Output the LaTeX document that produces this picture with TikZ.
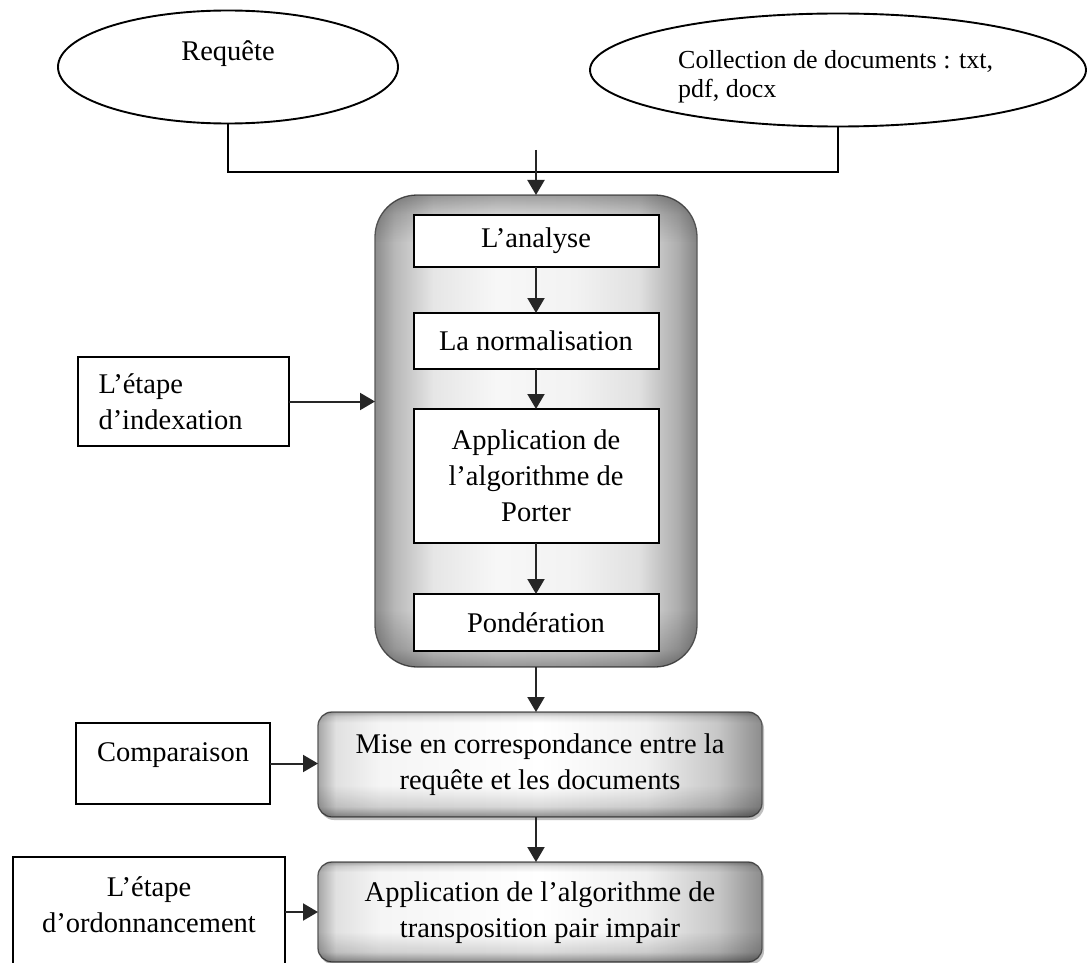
\documentclass[tikz,border=0pt]{standalone}
\usepackage{fontspec}
\setmainfont{Liberation Serif}
\usetikzlibrary{arrows.meta,shapes.geometric,shadows}

% soft grey glow: dark rims, light centre
\pgfdeclarehorizontalshading{sideglow}{100bp}{color(0bp)=(black!45); color(25bp)=(black!45); color(28bp)=(black!28); color(34bp)=(black!10); color(44bp)=(black!3); color(56bp)=(black!5); color(66bp)=(black!12); color(72bp)=(black!32); color(75bp)=(black!48); color(100bp)=(black!48)}
\pgfdeclareverticalshading{endglow}{100bp}{color(0bp)=(black!40); color(25bp)=(black!40); color(27bp)=(black!18); color(31bp)=(white); color(70bp)=(white); color(73bp)=(black!15); color(75bp)=(black!35); color(100bp)=(black!35)}
\pgfdeclarehorizontalshading{wideglow}{100bp}{color(0bp)=(black!35); color(25bp)=(black!35); color(27bp)=(black!12); color(32bp)=(black!4); color(50bp)=(white); color(62bp)=(black!6); color(70bp)=(black!22); color(75bp)=(black!45); color(100bp)=(black!45)}
\pgfdeclareverticalshading{wideglowv}{100bp}{color(0bp)=(black!45); color(25bp)=(black!45); color(30bp)=(black!15); color(40bp)=(white); color(70bp)=(white); color(73bp)=(black!10); color(75bp)=(black!30); color(100bp)=(black!30)}

\tikzset{
  txt/.style={font=\fontsize{28.5}{36}\selectfont, align=center, inner sep=0pt},
  oval/.style={draw, ellipse, line width=1.9pt, inner sep=0pt, outer sep=0pt},
  plainbox/.style={draw, line width=2pt, fill=white, inner sep=0pt, outer sep=0pt, txt},
  stagebox/.style={draw=black!65, line width=1.3pt, inner sep=0pt, outer sep=0pt, txt},
  widebox/.style={stagebox, shade, shading=wideglow, rounded corners=14pt,
    minimum width=444pt, drop shadow={shadow xshift=2pt, shadow yshift=-3pt, fill=black!45, opacity=0.55}},
  link/.style={draw, line width=2pt},
  arr/.style={draw=black!85, line width=2pt, -{Triangle[length=15pt,width=17pt]}},
}

\begin{document}
\begin{tikzpicture}[x=1pt, y=-1pt]
\fill[white] (0,0) rectangle (1090,963);
\useasboundingbox (0,0) rectangle (1090,963);

% inputs
\node[oval, minimum width=340pt, minimum height=113pt] (req) at (228,67) {};
\node[txt] (reqlabel) at (228,54) {Requête};
\node[oval, minimum width=496pt, minimum height=113pt] (coll) at (838,70) {};
\node[txt, font=\fontsize{26}{29}\selectfont, align=left, anchor=west] (colllabel) at (678,77) {Collection de documents : txt,\\pdf, docx};

\coordinate (merge) at (536,172);
\coordinate (entry) at (536,150);
\draw[link] (req.south) |- (merge) -| (coll.south);

% indexing stage
\node[stagebox, shade, shading=sideglow, rounded corners=42pt,
      minimum width=322pt, minimum height=472pt] (idx) at (536,431) {};
\begin{scope}[blend mode=multiply]
  \shade[shading=endglow, rounded corners=42pt] (idx.south west) rectangle (idx.north east);
\end{scope}
\draw[arr] (entry) -- (idx.north);

\node[plainbox, minimum width=245pt, minimum height=52pt] (ana) at (536,241) {L’analyse};
\node[plainbox, minimum width=245pt, minimum height=56pt] (norm) at (536,341) {La normalisation};
\node[plainbox, minimum width=245pt, minimum height=134pt] (porter) at (536,476) {Application de\\l’algorithme de\\Porter};
\node[plainbox, minimum width=245pt, minimum height=57pt] (pond) at (536,622.5) {Pondération};
\draw[arr] (ana.south) -- (norm.north);
\draw[arr] (norm.south) -- (porter.north);
\draw[arr] (porter.south) -- (pond.north);

\node[plainbox, minimum width=211pt, minimum height=89pt, text width=170pt, align=left] (indexlbl) at (183.5,401.5) {L’étape\\d’indexation};
\draw[arr] (indexlbl.east) -- (indexlbl.east -| idx.west);

% matching stage
\node[widebox, minimum height=105pt] (match) at (540,764.5) {};
\begin{scope}[blend mode=multiply]
  \shade[shading=wideglowv, rounded corners=14pt] (match.south west) rectangle (match.north east);
\end{scope}
\node[txt] (matchlabel) at (540,765) {Mise en correspondance entre la\\requête et les documents};
\draw[arr] (idx.south) -- (idx.south |- match.north);

\node[plainbox, minimum width=194pt, minimum height=81pt] (cmp) at (173,763.5) {};
\node[txt] (cmplabel) at (173,755) {Comparaison};
\draw[arr] (cmp.east) -- (cmp.east -| match.west);

% ranking stage
\node[widebox, minimum height=100pt] (sort) at (540,912) {};
\begin{scope}[blend mode=multiply]
  \shade[shading=wideglowv, rounded corners=14pt] (sort.south west) rectangle (sort.north east);
\end{scope}
\node[txt] (sortlabel) at (540,913) {Application de l’algorithme de\\transposition pair impair};
\draw[arr] (idx.south |- match.south) -- (idx.south |- sort.north);

\node[plainbox, minimum width=272pt, minimum height=112pt] (ord) at (149,913) {};
\node[txt] (ordlabel) at (149,904.5) {L’étape\\d’ordonnancement};
\draw[arr] (ord.east |- sort.west) -- (sort.west);
\end{tikzpicture}
\end{document}
